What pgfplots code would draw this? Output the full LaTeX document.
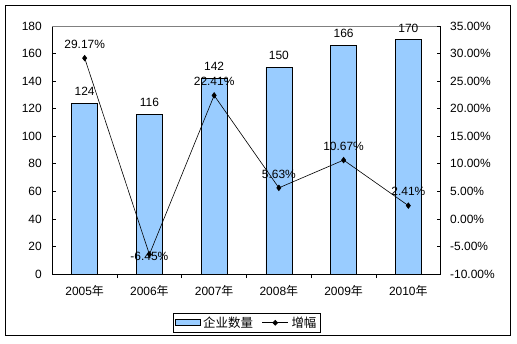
\documentclass[border=0pt]{standalone}
\usepackage{fontspec}
\setmainfont{Liberation Sans}
\newfontfamily\cjk{Noto Sans CJK SC}
\usepackage{pgfplots}
\pgfplotsset{compat=1.18}
\definecolor{barblue}{RGB}{153,204,255}
\begin{document}
\begin{tikzpicture}
\path[use as bounding box, fill=white] (0,0) rectangle (517bp,-344bp);
\draw[black, line width=0.8bp] (5bp,-5bp) rectangle (510bp,-335bp);
\begin{axis}[
  at={(52.3bp,-274bp)}, anchor=south west,
  scale only axis, width=388.4bp, height=248bp,
  xmin=-0.5, xmax=5.5, ymin=0, ymax=180,
  axis x line*=bottom, axis y line*=left,
  axis line style={black, line width=0.6bp},
  x axis line style={-}, y axis line style={-},
  xtick={0,1,2,3,4,5},
  xticklabels={2005{\cjk 年},2006{\cjk 年},2007{\cjk 年},2008{\cjk 年},2009{\cjk 年},2010{\cjk 年}},
  major x tick style={draw=none},
  minor xtick={0.5,1.5,2.5,3.5,4.5},
  minor tick length=4bp,
  minor x tick style={black, line width=0.6bp},
  ytick={0,20,...,180},
  tick align=inside, major tick length=4bp,
  major y tick style={black, line width=0.6bp},
  /pgf/number format/assume math mode=true,
  tick label style={font=\fontsize{12}{14}\selectfont, black},
  xticklabel style={yshift=-4bp},
  yticklabel style={xshift=-7bp},
  ybar, bar width=26bp,
  nodes near coords,
  every node near coord/.append style={font=\fontsize{12}{14}\selectfont, black, yshift=4bp},
  legend style={at={(0.5,-0.157)}, anchor=north, legend columns=2, draw=black, line width=0.6bp,
    font=\cjk\fontsize{12.5}{14}\selectfont, inner sep=1.5bp,
    /tikz/every odd column/.append style={column sep=1bp},
    /tikz/every even column/.append style={column sep=7bp}},
  legend image code/.code={\draw[#1, draw=black, line width=0.6bp] (0bp,-3bp) rectangle (25bp,3bp);},
  clip=false,
]
\addplot[fill=barblue, draw=black, line width=0.6bp] coordinates {(0,124) (1,116) (2,142) (3,150) (4,166) (5,170)};
\addlegendentry{企业数量}
\addlegendimage{black, line width=0.6bp, mark=diamond*, mark size=2.5bp, legend image code/.code={\draw[black, line width=0.6bp] (0bp,0bp) -- (26bp,0bp); \fill (13bp,0bp) +(0,2.5bp) -- +(2.5bp,0) -- +(0,-2.5bp) -- +(-2.5bp,0) -- cycle;}}
\addlegendentry{增幅}
\draw[gray, line width=0.6bp] (rel axis cs:0,1) -- (rel axis cs:1,1);
\end{axis}
\begin{axis}[
  at={(52.3bp,-274bp)}, anchor=south west,
  scale only axis, width=388.4bp, height=248bp,
  xmin=-0.5, xmax=5.5, ymin=-10, ymax=35,
  axis x line=none, axis y line*=right,
  axis line style={black, line width=0.6bp, -},
  ytick={-10,-5,...,35},
  tick align=inside, major tick length=4bp,
  major y tick style={black, line width=0.6bp},
  /pgf/number format/assume math mode=true,
  yticklabel={\pgfmathprintnumber[fixed,fixed zerofill,precision=2]{\tick}\%},
  tick label style={font=\fontsize{12}{14}\selectfont, black},
  yticklabel style={xshift=6bp},
  nodes near coords={\pgfmathprintnumber[fixed,fixed zerofill,precision=2,assume math mode=true]{\pgfplotspointmeta}\%},
  every node near coord/.append style={font=\fontsize{12}{14}\selectfont, black, yshift=6bp},
  clip=false,
]
\addplot[black, line width=0.6bp, mark=diamond*, mark size=2.8bp] coordinates {(0,29.17) (1,-6.45) (2,22.41) (3,5.63) (4,10.67) (5,2.41)};
\end{axis}
\end{tikzpicture}
\end{document}
